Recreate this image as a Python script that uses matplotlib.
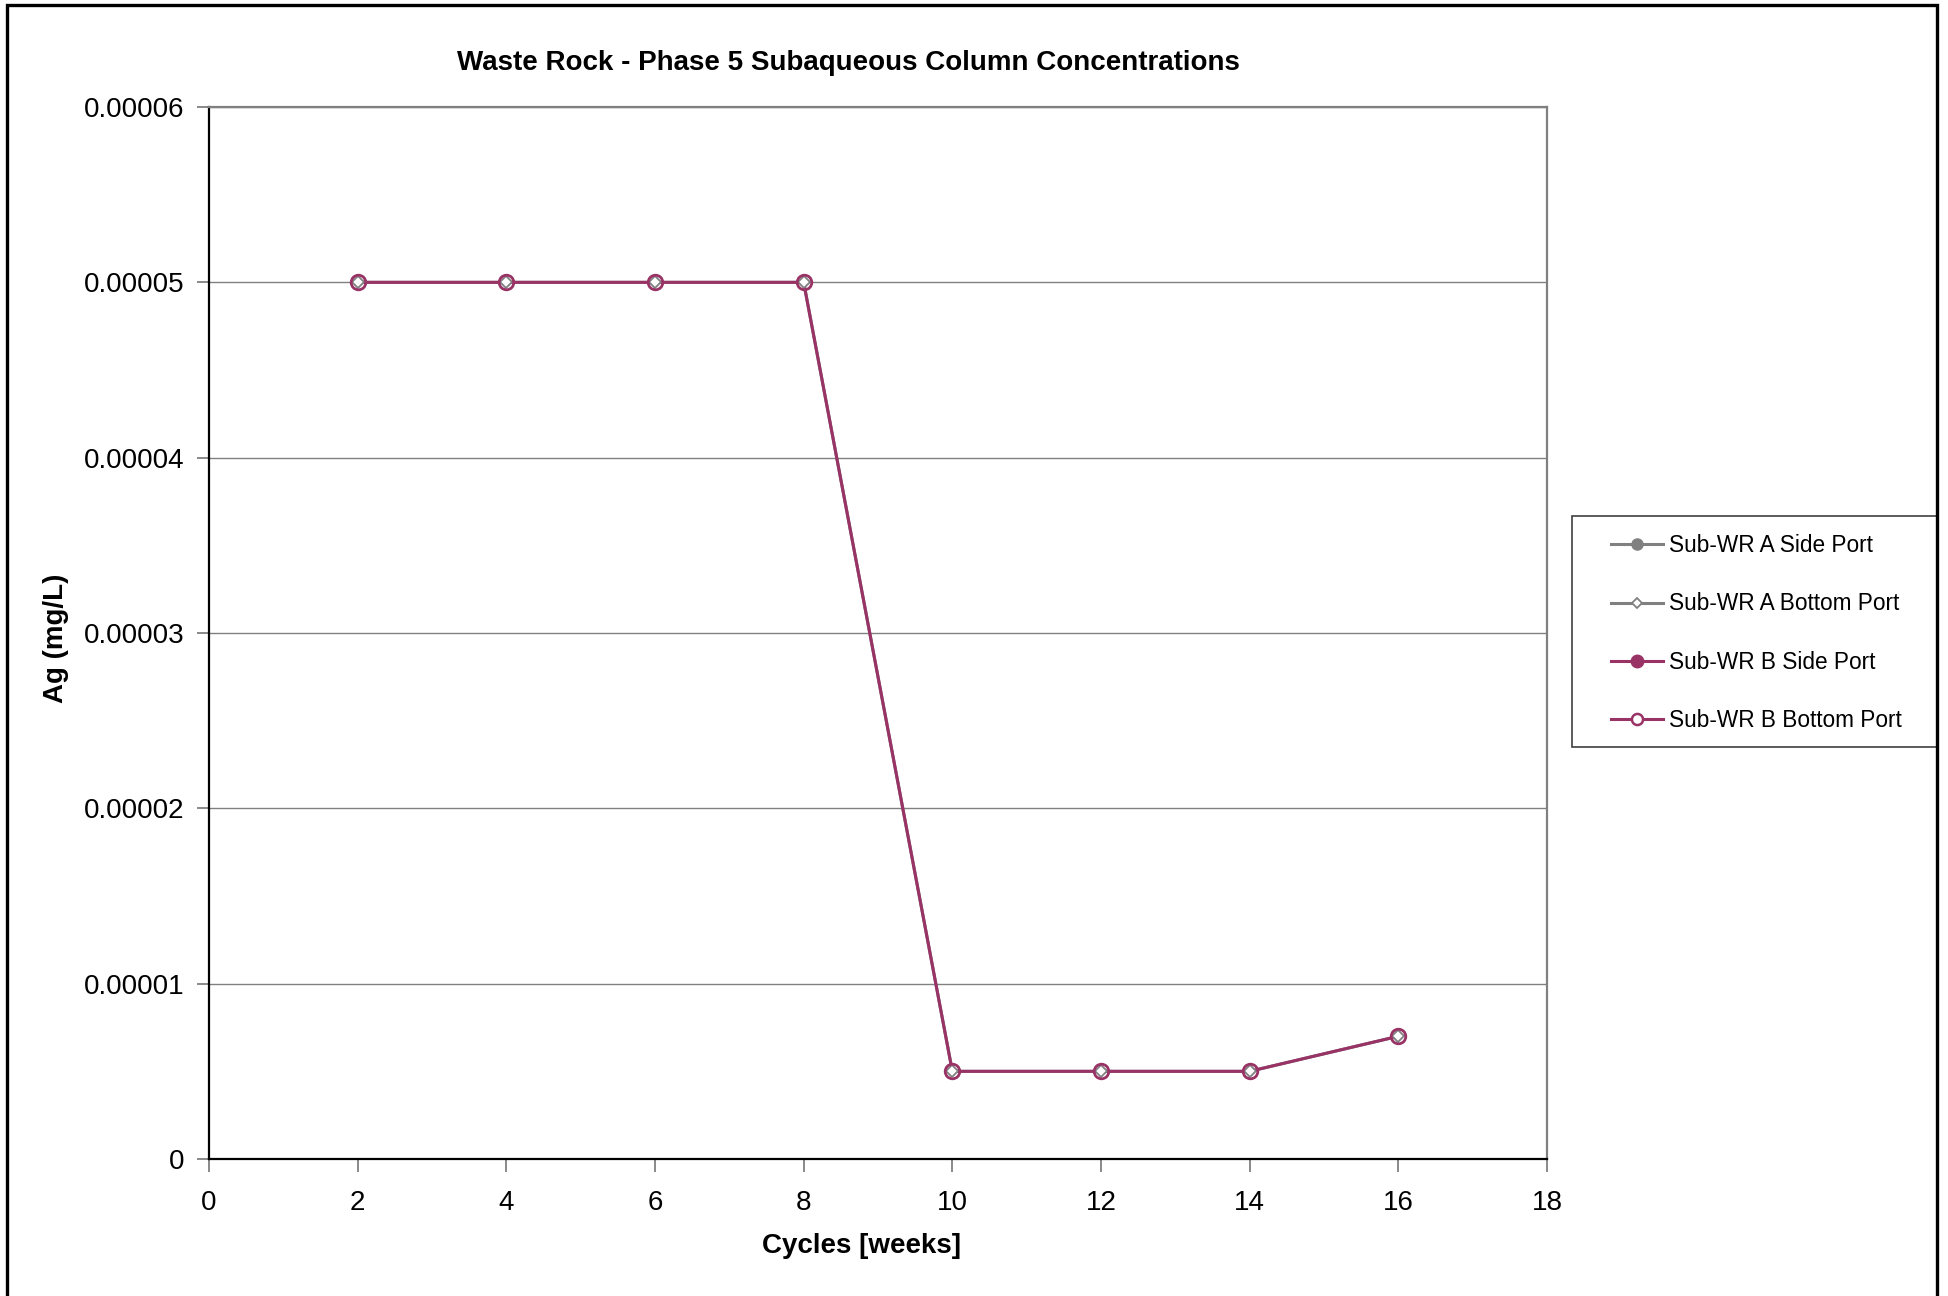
import matplotlib
matplotlib.use("Agg")
import matplotlib.pyplot as plt
from matplotlib.lines import Line2D
from matplotlib.patches import Rectangle
from matplotlib import font_manager

# ---- data ----
cycles = [2, 4, 6, 8, 10, 12, 14, 16]
a_side = []
a_bottom = [0.00005, 0.00005, 0.00005, 0.00005, 0.000005, 0.000005, 0.000005, 0.000007]
b_side = []
b_bottom = [0.00005, 0.00005, 0.00005, 0.00005, 0.000005, 0.000005, 0.000005, 0.000007]
series_labels = ["Sub-WR A Side Port", "Sub-WR A Bottom Port", "Sub-WR B Side Port", "Sub-WR B Bottom Port"]
xticks = [0, 2, 4, 6, 8, 10, 12, 14, 16, 18]
yticks = [0, 0.00001, 0.00002, 0.00003, 0.00004, 0.00005, 0.00006]
ytick_labels = ["0", "0.00001", "0.00002", "0.00003", "0.00004", "0.00005", "0.00006"]
title = "Waste Rock - Phase 5 Subaqueous Column Concentrations"
xlabel = "Cycles [weeks]"
ylabel = "Ag (mg/L)"

names = {f.name for f in font_manager.fontManager.ttflist}
base = "Liberation Sans" if "Liberation Sans" in names else "DejaVu Sans"
plt.rcParams['font.family'] = [base, 'DejaVu Sans']

GRAY = "#808080"
PURPLE = "#993366"

W, H = 1949, 1296
fig = plt.figure(figsize=(W / 100, H / 100), dpi=100)
L, R, T, B = 209, 1547, 107, 1159
ax = fig.add_axes([L / W, 1 - B / H, (R - L) / W, (B - T) / H])

ax.plot(cycles[:len(a_side)], a_side, color=GRAY, lw=2.2, marker='o', zorder=2)
ax.plot(cycles[:len(b_side)], b_side, color=PURPLE, lw=2.2, marker='o', zorder=2)
ax.plot(cycles, a_bottom, color=GRAY, lw=2.2, zorder=2)
ax.plot(cycles, b_bottom, color=PURPLE, lw=2.2, zorder=3)
ax.plot(cycles, a_bottom, ls='none', marker='D', ms=6, mfc='white', mec=GRAY, mew=1.3, zorder=4)
ax.plot(cycles, b_bottom, ls='none', marker='o', ms=10.5, mfc='none', mec=PURPLE, mew=2.0, zorder=5)

ax.set_xlim(0, 18)
ax.set_ylim(0, 0.00006)
ax.set_xticks(xticks)
ax.set_xticklabels([str(v) for v in xticks])
ax.set_yticks(yticks)
ax.set_yticklabels(ytick_labels)
ax.tick_params(axis='x', direction='out', length=9, width=1.3, color=GRAY, labelsize=20, pad=13.5)
ax.tick_params(axis='y', direction='out', length=9, width=1.3, color=GRAY, labelsize=20, pad=8.5)
ax.yaxis.grid(True, color=GRAY, lw=1.0)
ax.set_axisbelow(True)
for s in ['top', 'right']:
    ax.spines[s].set_color(GRAY)
    ax.spines[s].set_linewidth(1.6)
for s in ['left', 'bottom']:
    ax.spines[s].set_color('black')
    ax.spines[s].set_linewidth(1.6)

ax.set_xlabel(xlabel, fontsize=20, fontweight='bold', va='center')
ax.xaxis.set_label_coords((862 - L) / (R - L), -(1246 - B) / (B - T))
ax.set_ylabel(ylabel, fontsize=20, fontweight='bold', va='center')
ax.yaxis.set_label_coords((56 - L) / (R - L), (B - 638) / (B - T))

fig.text(848 / W, 1 - 70 / H, title, fontsize=20, fontweight='bold', ha='center', va='baseline')

handles = [
    Line2D([], [], color=GRAY, lw=2.2, marker='o', ms=8, mfc=GRAY, mec=GRAY),
    Line2D([], [], color=GRAY, lw=2.2, marker='D', ms=5, mfc='white', mec=GRAY, mew=1.3),
    Line2D([], [], color=PURPLE, lw=2.2, marker='o', ms=9, mfc=PURPLE, mec=PURPLE),
    Line2D([], [], color=PURPLE, lw=2.2, marker='o', ms=8, mfc='white', mec=PURPLE, mew=1.8),
]
# legend frame
fig.add_artist(Rectangle((1572 / W, 1 - 747 / H), (1937 - 1572) / W, (747 - 516) / H,
                         transform=fig.transFigure, fill=True, facecolor='white',
                         edgecolor='#404040', lw=1.2, zorder=1))
leg = fig.legend(handles, series_labels, loc='upper left',
                 bbox_to_anchor=(1611 / W, 1 - 534 / H), bbox_transform=fig.transFigure,
                 fontsize=16.3, frameon=False, borderpad=0,
                 labelspacing=1.565, handlelength=2.3, handletextpad=0.25, borderaxespad=0)
leg.set_zorder(2)

fig.add_artist(Rectangle((7 / W, -0.05), (1937 - 7) / W, 1.05 - 5 / H, transform=fig.transFigure,
                         fill=False, edgecolor='black', lw=2.4, clip_on=False, zorder=3))

fig.savefig("out.png", dpi=100)
